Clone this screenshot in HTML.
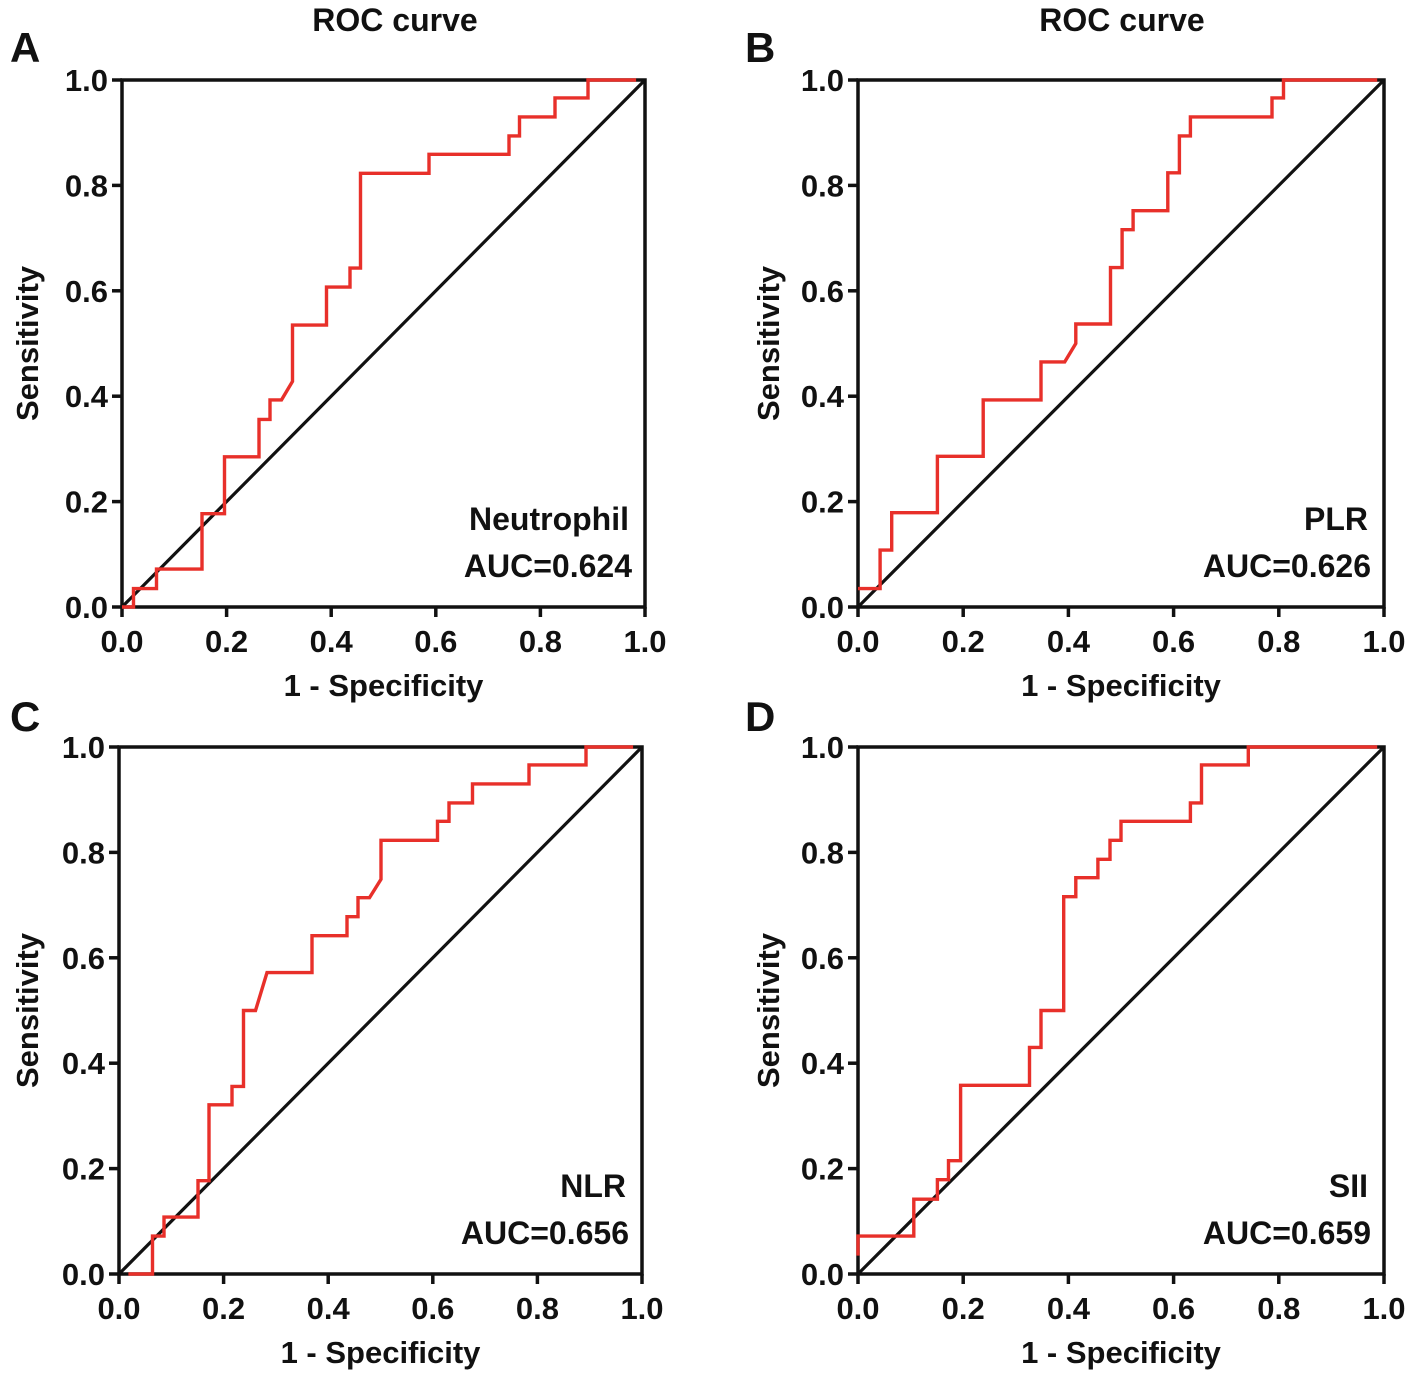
<!DOCTYPE html>
<html><head><meta charset="utf-8">
<style>
html,body{margin:0;padding:0;background:#fff;}
svg{display:block;font-family:"Liberation Sans",Arial,sans-serif;font-weight:bold;}
</style></head>
<body>
<svg id="fig" width="1418" height="1381" viewBox="0 0 1418 1381" xmlns="http://www.w3.org/2000/svg"></svg>
<script>
const tickValues = [0, 0.2, 0.4, 0.6, 0.8, 1.0];
const tickLabels = ["0.0", "0.2", "0.4", "0.6", "0.8", "1.0"];
const panelLetters = ["A", "B", "C", "D"];
const markerNames = ["Neutrophil", "PLR", "NLR", "SII"];
const aucLabels = ["AUC=0.624", "AUC=0.626", "AUC=0.656", "AUC=0.659"];
const fprA = [0,0.022,0.022,0.066,0.066,0.153,0.153,0.196,0.196,0.262,0.262,0.283,0.283,0.305,0.326,0.326,0.391,0.391,0.436,0.436,0.456,0.456,0.587,0.587,0.740,0.740,0.760,0.760,0.828,0.828,0.891,0.891,0.983];
const tprA = [0,0,0.035,0.035,0.072,0.072,0.177,0.177,0.285,0.285,0.356,0.356,0.393,0.393,0.428,0.535,0.535,0.607,0.607,0.643,0.643,0.823,0.823,0.859,0.859,0.894,0.894,0.930,0.930,0.966,0.966,1,1];
const fprB = [0,0.042,0.042,0.064,0.064,0.151,0.151,0.238,0.238,0.348,0.348,0.393,0.414,0.414,0.480,0.480,0.502,0.502,0.523,0.523,0.589,0.589,0.611,0.611,0.632,0.632,0.787,0.787,0.809,0.809,0.987];
const tprB = [0.035,0.035,0.108,0.108,0.179,0.179,0.286,0.286,0.393,0.393,0.465,0.465,0.5,0.537,0.537,0.644,0.644,0.716,0.716,0.752,0.752,0.824,0.824,0.894,0.894,0.930,0.930,0.966,0.966,1,1];
const fprC = [0.018,0.064,0.064,0.086,0.086,0.151,0.151,0.172,0.172,0.216,0.216,0.238,0.238,0.261,0.283,0.369,0.369,0.436,0.436,0.457,0.457,0.479,0.501,0.501,0.609,0.609,0.631,0.631,0.676,0.676,0.784,0.784,0.893,0.893,0.983];
const tprC = [0,0,0.072,0.072,0.108,0.108,0.177,0.177,0.321,0.321,0.356,0.356,0.5,0.5,0.572,0.572,0.642,0.642,0.678,0.678,0.714,0.714,0.749,0.823,0.823,0.859,0.859,0.894,0.894,0.930,0.930,0.966,0.966,1,1];
const fprD = [0,0,0.106,0.106,0.151,0.151,0.172,0.172,0.195,0.195,0.326,0.326,0.348,0.348,0.391,0.391,0.414,0.414,0.456,0.456,0.479,0.479,0.5,0.5,0.632,0.632,0.653,0.653,0.742,0.742,0.987];
const tprD = [0.035,0.072,0.072,0.142,0.142,0.179,0.179,0.215,0.215,0.358,0.358,0.430,0.430,0.5,0.5,0.716,0.716,0.752,0.752,0.787,0.787,0.823,0.823,0.859,0.859,0.894,0.894,0.966,0.966,1,1];

const panels = [
  {l:122,r:645,t:80,b:607,fpr:fprA,tpr:tprA,title:395,letterX:10,letterY:62,ytitleX:38},
  {l:858,r:1384,t:80,b:607,fpr:fprB,tpr:tprB,title:1122,letterX:745,letterY:62,ytitleX:779},
  {l:119,r:642,t:747,b:1274,fpr:fprC,tpr:tprC,title:0,letterX:10,letterY:731,ytitleX:38},
  {l:858,r:1384,t:747,b:1274,fpr:fprD,tpr:tprD,title:0,letterX:745,letterY:731,ytitleX:779}
];
const svg = document.getElementById('fig');
const NS = 'http://www.w3.org/2000/svg';
function mk(tag, attrs, parent){
  const e = document.createElementNS(NS, tag);
  for (const k in attrs) e.setAttribute(k, attrs[k]);
  (parent||svg).appendChild(e);
  return e;
}
panels.forEach((p, i) => {
  const g = mk('g', {});
  
  
  const xs = v => p.l + v * (p.r - p.l);
  const ys = v => p.b - v * (p.b - p.t);
  if (p.title) {
    const t = mk('text', {x:p.title, y:31, 'font-size':32, 'text-anchor':'middle', fill:'#111'}, g);
    t.textContent = 'ROC curve';
    
    
  }
  const L = mk('text', {x:p.letterX, y:p.letterY, 'font-size':42, fill:'#111'}, g);
  L.textContent = panelLetters[i];
  
  
  const frame = mk('rect', {x:p.l, y:p.t, width:p.r-p.l, height:p.b-p.t, fill:'none', stroke:'#111', 'stroke-width':3.5}, g);
  
  
  tickValues.forEach((v, k) => {
    const ty = mk('line', {x1:p.l-10, x2:p.l, y1:ys(v), y2:ys(v), stroke:'#111', 'stroke-width':3.5}, g);
    
    
    const tly = mk('text', {x:p.l-14, y:ys(v)+11, 'font-size':31, 'text-anchor':'end', fill:'#111'}, g);
    tly.textContent = tickLabels[k];
    
    
    const tx = mk('line', {x1:xs(v), x2:xs(v), y1:p.b, y2:p.b+10, stroke:'#111', 'stroke-width':3.5}, g);
    
    
    const tlx = mk('text', {x:xs(v), y:p.b+45, 'font-size':31, 'text-anchor':'middle', fill:'#111'}, g);
    tlx.textContent = tickLabels[k];
    
    
  });
  const xt = mk('text', {x:(p.l+p.r)/2, y:p.b+89, 'font-size':31, 'text-anchor':'middle', fill:'#111'}, g);
  xt.textContent = '1 - Specificity';
  
  
  const yc = (p.t+p.b)/2;
  const yt = mk('text', {x:p.ytitleX, y:yc, 'font-size':31, 'text-anchor':'middle', fill:'#111', transform:`rotate(-90 ${p.ytitleX} ${yc})`}, g);
  yt.textContent = 'Sensitivity';
  
  
  const diag = mk('line', {x1:xs(0), y1:ys(0), x2:xs(1), y2:ys(1), stroke:'#111', 'stroke-width':3.2}, g);
  
  
  const pts = p.fpr.map((f, k) => xs(f).toFixed(1) + ',' + ys(p.tpr[k]).toFixed(1)).join(' ');
  const curve = mk('polyline', {points:pts, fill:'none', stroke:'#e8302a', 'stroke-width':3.4, 'stroke-linejoin':'miter'}, g);
  
  
  const n = mk('text', {x:p.r-16, y:p.b-77, 'font-size':32, 'text-anchor':'end', fill:'#111'}, g);
  n.textContent = markerNames[i];
  
  
  const a = mk('text', {x:p.r-13, y:p.b-30, 'font-size':32, 'text-anchor':'end', fill:'#111'}, g);
  a.textContent = aucLabels[i];
  
  
});
</script>
</body></html>
